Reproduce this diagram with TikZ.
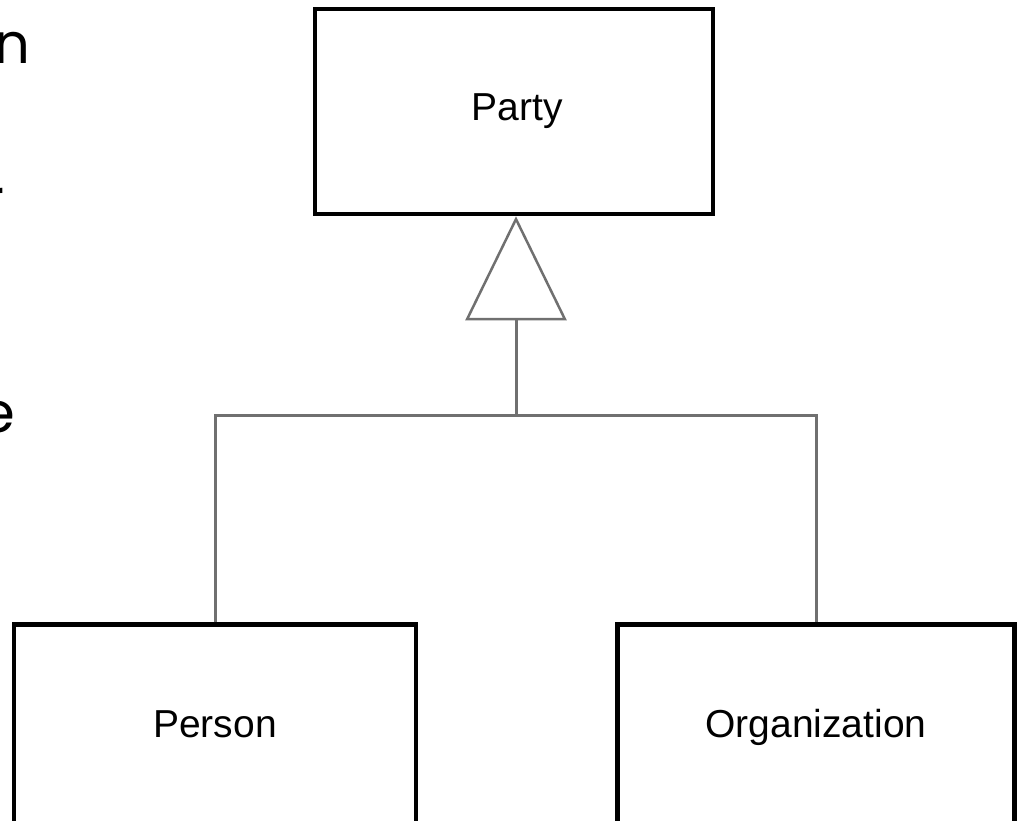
\documentclass[tikz,border=0pt]{standalone}
\usepackage{fontspec}
\setmainfont{Liberation Sans}
\newfontfamily\sidefont{Poppins}
\usetikzlibrary{arrows.meta}
\definecolor{conngray}{RGB}{112,112,112}
\tikzset{
  classbox/.style={draw=black, line width=4.5pt, rectangle, fill=white, inner sep=0pt,
    font=\fontsize{39}{44}\selectfont, text=black},
  conn/.style={draw=conngray, line width=3pt},
  sidetext/.style={inner sep=0pt, font=\sidefont\fontsize{56}{60}\selectfont, text=black}
}
\begin{document}
\begin{tikzpicture}[x=1pt,y=-1pt]
\useasboundingbox (0,0) rectangle (1017,820);
\clip (0,0) rectangle (1017,820);
\fill[white] (0,0) rectangle (1017,820);
% cut-off text at the left edge
\node[sidetext, anchor=base east] (tn) at (31,63) {n};
\node[sidetext, anchor=base east] (tr) at (5,219) {r};
\node[sidetext, anchor=base east] (te) at (15,432) {e};
% classes
\node[classbox, minimum width=398pt, minimum height=205pt] (party) at (514,111.5) {\raisebox{-1pt}{\hspace{6pt}Party}};
\node[classbox, minimum width=402pt, minimum height=205pt] (person) at (215,727) {\raisebox{5pt}{Person}};
\node[classbox, minimum width=397pt, minimum height=205pt] (org) at (816,727) {\raisebox{3pt}{Organization}};
% generalization
\coordinate (junc) at (516,415);
\draw[conn] (person.north) |- (junc) -| (org.north);
\draw[conn, -{Triangle[open, length=104pt, width=101pt, line width=2.5pt]}] (junc) -- (junc |- party.south);
\end{tikzpicture}
\end{document}
